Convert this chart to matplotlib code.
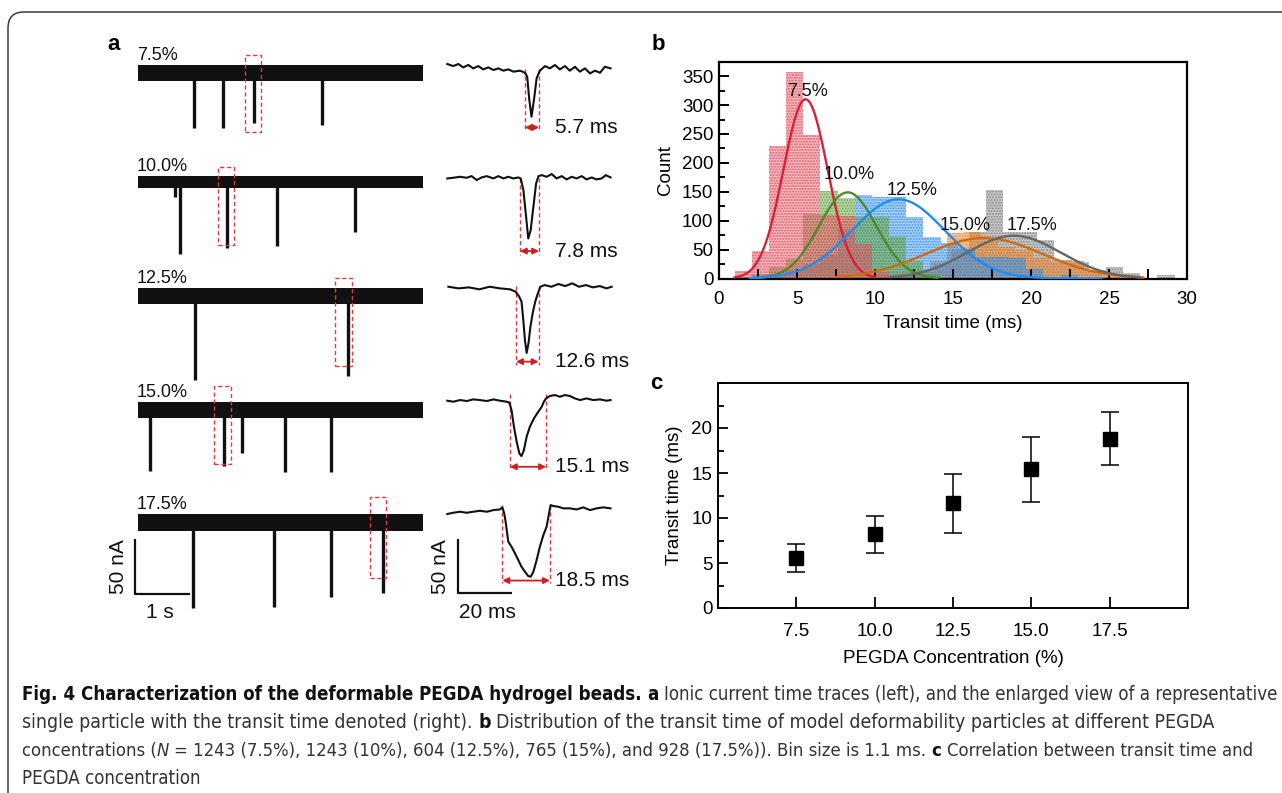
import numpy as np
import matplotlib
matplotlib.use('Agg')
import matplotlib.pyplot as plt
from matplotlib import font_manager
from matplotlib.font_manager import FontProperties
from matplotlib.patches import Rectangle, FancyBboxPatch
from matplotlib.transforms import IdentityTransform
from matplotlib.ticker import MultipleLocator
from matplotlib.colors import to_rgba

W, H, DPI = 1282, 793, 100
names = {f.name for f in font_manager.fontManager.ttflist}
SANS = 'Liberation Sans' if 'Liberation Sans' in names else 'DejaVu Sans'
plt.rcParams['font.family'] = [SANS, 'DejaVu Sans']
plt.rcParams['hatch.linewidth'] = 0.9

_WMAP = {'ultralight': 200, 'light': 300, 'normal': 400, 'regular': 400, 'book': 400, 'medium': 500,
         'semibold': 600, 'demibold': 600, 'bold': 700, 'heavy': 800, 'extra bold': 800, 'black': 900}


def _weight(f):
    if isinstance(f.weight, (int, float)):
        return int(f.weight)
    return _WMAP.get(str(f.weight).lower(), 400)


def find_condensed(target_w, italic=False):
    cands = []
    for f in font_manager.fontManager.ttflist:
        nm = f.name
        st = str(f.stretch)
        low = (nm + ' ' + f.fname).lower()
        cond = ('condensed' in low or 'narrow' in low or st in ('condensed', 'semi-condensed'))
        if not cond or 'mono' in low or 'serif' in low.replace('sans-serif', '') or 'cjk' in low:
            continue
        flat = low.replace(' ', '').replace('-', '')
        if 'extracondensed' in flat or 'ultracondensed' in flat:
            continue
        isi = f.style in ('italic', 'oblique')
        if isi != italic:
            continue
        fw = _weight(f)
        semi = ('semicondensed' in flat) or st == 'semi-condensed'
        score = abs(fw - target_w) + (150 if semi else 0) + (0 if 'sans' in low else 50)
        cands.append((score, f.fname))
    if not cands:
        return None
    cands.sort()
    return cands[0][1]


COND_REG = find_condensed(400)
COND_BOLD = find_condensed(700)
COND_IT = find_condensed(400, True)
HAVE_COND = COND_REG is not None and COND_BOLD is not None

# ---------------- data: panel b (histograms, bin = 1.1 ms) ----------------
bin_width = 1.1
hist_labels = ['7.5%', '10.0%', '12.5%', '15.0%', '17.5%']
hist_start = [1.0, 1.0, 1.0, 8.0, 9.4]
counts_75 = [13, 48, 230, 357, 249, 110, 108, 60, 12, 3]
counts_100 = [3, 8, 20, 33, 112, 152, 140, 107, 107, 72, 30, 8, 2]
counts_125 = [2, 5, 8, 15, 25, 40, 85, 144, 141, 141, 107, 72, 62, 52, 38, 38, 35, 17, 3, 6]
counts_150 = [2, 4, 6, 10, 15, 30, 78, 81, 70, 55, 49, 35, 28, 31, 14, 5]
counts_175 = [2, 4, 8, 12, 25, 50, 80, 153, 81, 81, 66, 32, 28, 14, 20, 10, 0, 6]
hist_counts = [counts_75, counts_100, counts_125, counts_150, counts_175]
# Gaussian fit parameters
fit_center = [5.55, 8.25, 11.5, 17.0, 18.9]
fit_peak = [310, 149, 137, 70, 74]
fit_sigma = [1.42, 1.85, 2.98, 3.75, 3.0]
fit_range = [(1.0, 10.0), (2.5, 14.0), (2.0, 24.5), (7.5, 27.2), (11.0, 27.0)]
label_xy = [(5.65, 324), (8.35, 180), (12.35, 153), (15.75, 92), (20.05, 92)]

# ---------------- data: panel c ----------------
conc = [7.5, 10.0, 12.5, 15.0, 17.5]
conc_labels = ['7.5', '10.0', '12.5', '15.0', '17.5']
transit_mean = [5.55, 8.23, 11.62, 15.39, 18.82]
transit_low = [3.95, 6.16, 8.34, 11.8, 15.87]
transit_high = [7.12, 10.26, 14.87, 19.0, 21.77]
transit_ticks = [0, 5, 10, 15, 20]

# ---------------- data: panel a, left (long traces, s / nA) ----------------
trace_labels = ['7.5%', '10.0%', '12.5%', '15.0%', '17.5%']
trace_len_s = 5.18
band_half_nA = [7.5, 5.5, 7.5, 7.0, 8.0]
spike_t = [[1.02, 1.55, 2.11, 3.35],
           [0.68, 0.755, 1.62, 2.53, 3.95],
           [1.04, 3.82],
           [0.22, 1.56, 1.885, 2.67, 3.50],
           [1.006, 2.47, 3.50, 4.46]]
spike_depth = [[-50.5, -50.5, -46, -48],
               [-13, -65, -60, -58, -45],
               [-77, -73],
               [-55.5, -51, -39, -57, -57],
               [-78, -77, -68, -64]]
box_t0 = [1.945, 1.46, 3.59, 1.39, 4.22]
box_t1 = [2.23, 1.745, 3.885, 1.685, 4.50]
box_top = [16.5, 13.7, 17.0, 22.0, 23.5]
box_bot = [-54, -57, -64, -49, -51]

# ---------------- data: panel a, right (single events, ms / nA) ----------------
ev1_t = [0.0, 2.2, 4.1, 5.9, 7.8, 9.6, 11.5, 13.3, 15.2, 17.1, 18.9, 20.8, 22.6, 24.5, 27.0, 28.8, 29.6,
         30.4, 31.2, 32.1, 33.1, 34.3, 36.2, 38.0, 39.9, 41.7, 43.6, 45.4, 47.3, 49.1, 51.0, 52.9, 54.7,
         56.6, 58.4, 60.5]
ev1_i = [4.6, 2.7, 4.6, 1.5, 3.7, 0.6, 2.7, -0.3, 1.5, -0.9, 0.6, -1.5, -0.3, -2.4, -1.5, -3.4, -7.0,
         -28.4, -43.6, -28.4, -8.5, -1.5, 2.7, 0.6, 3.7, -0.3, 2.7, -1.5, 2.1, -2.4, 0.6, -4.0, -1.5,
         -3.4, 2.1, 0.6]
ev2_t = [0.0, 2.2, 4.7, 7.2, 9.0, 10.9, 12.7, 14.6, 17.1, 18.9, 20.8, 22.6, 24.5, 26.3, 27.2, 28.2, 29.2,
         30.0, 30.9, 31.9, 32.9, 33.8, 35.0, 36.8, 38.7, 40.5, 42.4, 44.2, 46.1, 47.9, 49.8, 51.6, 53.5,
         55.3, 57.2, 58.7, 60.5]
ev2_i = [-0.6, 0.0, 0.9, 0.0, 1.5, -2.1, 0.3, 1.5, -0.6, 1.5, -0.6, 0.9, -0.6, 0.3, -0.6, -11.3, -35.7,
         -55.5, -47.9, -26.5, -5.2, 1.5, 2.4, 0.9, 3.4, -0.6, 1.5, -1.5, 0.9, -0.6, 1.5, -1.5, 0.3,
         -1.5, -0.6, 2.4, 0.3]
ev3_t = [0.4, 4.2, 8.0, 11.9, 15.7, 19.5, 23.3, 25.3, 26.5, 27.5, 28.2, 28.8, 29.4, 30.1, 30.8, 31.7,
         32.6, 33.5, 34.5, 36.1, 38.6, 41.2, 43.7, 46.3, 48.8, 51.4, 53.9, 56.5, 59.0, 60.9]
ev3_i = [1.5, 0.0, 0.9, -0.9, 1.5, 0.0, -0.9, -3.0, -7.0, -12, -30, -48, -59, -50, -35, -22, -12, -5,
         1.5, 3.0, 1.5, 4.0, 2.1, 4.6, 1.5, 3.0, 0.9, 2.1, 0.0, 1.5]
ev4_t = [0.0, 2.2, 4.7, 7.2, 9.6, 12.1, 14.6, 17.1, 19.5, 22.0, 23.0, 23.8, 24.7, 25.7, 26.7, 27.5, 28.4,
         29.4, 30.6, 32.1, 33.7, 35.0, 35.8, 36.6, 38.0, 39.9, 41.7, 43.6, 45.4, 47.3, 49.2, 51.6, 54.1,
         56.6, 59.0, 60.5]
ev4_i = [-0.6, -1.5, 0.0, -0.9, 0.6, 0.0, -0.9, 0.6, -0.6, -1.5, -2.4, -9.1, -24.4, -38.1, -48.8, -51.2,
         -45.7, -33.5, -24.4, -16.8, -10.7, -6.1, -1.5, 1.5, 3.7, 4.6, 3.0, 4.6, 3.7, 1.5, 0.0, 1.5, 0.0,
         0.6, -0.6, 0.0]
ev5_t = [0.0, 2.2, 4.7, 7.2, 9.6, 12.1, 14.6, 17.1, 19.5, 20.4, 21.1, 21.7, 22.6, 23.8, 25.1, 26.3, 27.5,
         28.8, 30.0, 30.9, 31.9, 33.1, 34.3, 35.6, 36.8, 37.7, 38.3, 39.3, 41.1, 43.0, 45.4, 47.9, 50.4,
         52.9, 55.3, 57.8, 60.5]
ev5_i = [-1.2, 0.0, 0.9, 0.0, 0.9, 1.8, 0.9, 2.4, 3.0, 4.9, -0.6, -9.8, -26.5, -31.1, -37.2, -43.3, -49.4,
         -54.0, -57.9, -58.5, -54.0, -43.3, -31.1, -20.4, -12.8, -0.6, 7.0, 6.1, 5.5, 4.0, 4.0, 3.0, 4.9,
         2.4, 4.0, 4.9, 4.0]
event_t = [ev1_t, ev2_t, ev3_t, ev4_t, ev5_t]
event_i = [ev1_i, ev2_i, ev3_i, ev4_i, ev5_i]
event_labels = ['5.7 ms', '7.8 ms', '12.6 ms', '15.1 ms', '18.5 ms']
dash_t0 = [28.8, 26.9, 25.5, 23.2, 20.4]
dash_t1 = [34.0, 34.0, 33.8, 36.6, 38.0]
dash_top = [0.0, 0.0, 2.0, 5.5, 7.0]
dash_bot = [-55.8, -70.7, -70.0, -64.0, -64.6]
arrow_y = [-53.4, -67.0, -67.0, -61.0, -62.0]

# ---------------- layout / style ----------------
def fx(px):
    return px / W

def fy(py):
    return 1 - py / H

RED = '#e0393e'
INK = '#111111'
hist_colors = ['#e2505e', '#5e9e3a', '#2f8de8', '#ea7f22', '#7d7d7d']
line_colors = ['#d5223a', '#4e8a2c', '#1e8cf2', '#d3690e', '#666666']

fig = plt.figure(figsize=(W / DPI, H / DPI), dpi=DPI)

# outer rounded frame
frame = FancyBboxPatch((8, -60), 1500, H - 12 + 60, boxstyle='round,pad=0,rounding_size=16',
                       transform=IdentityTransform(), fill=False, ec='#3a3a3a', lw=1.1)
fig.add_artist(frame)

# ---------------- panel b ----------------
axb = fig.add_axes([fx(719), fy(278.5), fx(1187) - fx(719), fy(61.7) - fy(278.5)])
order = [4, 3, 2, 1, 0]
for k in order:
    edges = hist_start[k] + bin_width * np.arange(len(hist_counts[k]))
    axb.bar(edges, hist_counts[k], width=bin_width, align='edge',
            color=to_rgba(hist_colors[k], 0.42), edgecolor=to_rgba(hist_colors[k], 0.85),
            hatch='......', linewidth=0, zorder=1)
for k in range(5):
    lo, hi = fit_range[k]
    xs = np.linspace(lo, hi, 300)
    ys = fit_peak[k] * np.exp(-(xs - fit_center[k]) ** 2 / (2 * fit_sigma[k] ** 2))
    axb.plot(xs, ys, color=line_colors[k], lw=1.7, zorder=3)
for k in range(5):
    axb.text(label_xy[k][0], label_xy[k][1], hist_labels[k], ha='center', va='center',
             fontsize=13, color='#111111', zorder=4)
axb.set_xlim(0, 30)
axb.set_ylim(0, 375)
axb.xaxis.set_major_locator(MultipleLocator(5))
axb.xaxis.set_minor_locator(MultipleLocator(2.5))
axb.yaxis.set_major_locator(MultipleLocator(50))
axb.yaxis.set_minor_locator(MultipleLocator(25))
axb.tick_params(which='both', direction='in', top=False, right=False, width=1.4, labelsize=13.5)
axb.tick_params(axis='x', which='both', length=7, pad=9)
axb.tick_params(axis='y', which='major', length=7, pad=4)
axb.tick_params(axis='y', which='minor', length=4.5)
for s in axb.spines.values():
    s.set_linewidth(1.6)
axb.set_xlabel('Transit time (ms)', fontsize=13.5, labelpad=5)
axb.set_ylabel('Count', fontsize=13.5, labelpad=6)

# ---------------- panel c ----------------
axc = fig.add_axes([fx(718), fy(608), fx(1188) - fx(718), fy(383) - fy(608)])
m = np.array(transit_mean)
yerr = [m - np.array(transit_low), np.array(transit_high) - m]
axc.errorbar(conc, transit_mean, yerr=yerr, fmt='s', color='black', ms=10.5,
             capsize=6.5, elinewidth=1.1, capthick=1.1)
axc.set_xlim(5, 20)
axc.set_ylim(0, 25)
axc.set_xticks(conc)
axc.set_xticklabels(conc_labels)
axc.set_yticks(transit_ticks)
axc.yaxis.set_minor_locator(MultipleLocator(2.5))
axc.tick_params(which='both', direction='in', top=False, right=False, width=1.3, labelsize=13.5)
axc.tick_params(axis='x', which='major', length=8, pad=11)
axc.tick_params(axis='y', which='major', length=7, pad=4)
axc.tick_params(axis='y', which='minor', length=4.5)
for s in axc.spines.values():
    s.set_linewidth(1.4)
axc.set_xlabel('PEGDA Concentration (%)', fontsize=13.5, labelpad=7)
axc.set_ylabel('Transit time (ms)', fontsize=13.5, labelpad=6)

# ---------------- panel a, left ----------------
left_offsets = [0, -100, -204, -308, -411]
axl = fig.add_axes([fx(130), fy(630), fx(430) - fx(130), fy(50) - fy(630)])
axl.set_xlim(-0.1455, 5.309)
axl.set_ylim(-509.1, 21.0)
axl.axis('off')
for i in range(5):
    off = left_offsets[i]
    axl.fill_between([0, trace_len_s], off - band_half_nA[i], off + band_half_nA[i], color=INK, lw=0)
    for t, d in zip(spike_t[i], spike_depth[i]):
        axl.plot([t, t], [off, off + d], color=INK, lw=2.4, solid_capstyle='butt')
    axl.add_patch(Rectangle((box_t0[i], off + box_bot[i]), box_t1[i] - box_t0[i], box_top[i] - box_bot[i],
                            fill=False, ec=RED, lw=1.0, ls=(0, (3, 2)), zorder=5))
    axl.text(-0.02, off + band_half_nA[i] + 1.0, trace_labels[i], ha='left', va='bottom',
             fontsize=13, color='#111111')
# scale bar 1 s / 50 nA
sb_x, sb_y = -0.055, -476.2
axl.plot([sb_x, sb_x, sb_x + 1.0], [sb_y + 50, sb_y, sb_y], color=INK, lw=1.6, solid_capstyle='butt')
fig.text(fx(160), fy(613), '1 s', ha='center', va='center', fontsize=15, color='#111111')
fig.text(fx(118), fy(567), '50 nA', ha='center', va='center', fontsize=15, rotation=90, color='#111111')

# ---------------- panel a, right ----------------
right_offsets = [0, -99.4, -200.5, -302.6, -405.6]
axr = fig.add_axes([fx(440), fy(630), fx(640) - fx(440), fy(50) - fy(630)])
axr.set_xlim(-2.7, 71.4)
axr.set_ylim(-512.8, 17.4)
axr.axis('off')
for i in range(5):
    off = right_offsets[i]
    axr.plot(event_t[i], np.array(event_i[i]) + off, color=INK, lw=1.5, zorder=3)
    for tt in (dash_t0[i], dash_t1[i]):
        axr.plot([tt, tt], [off + dash_top[i], off + dash_bot[i]], color=RED, lw=1.0,
                 ls=(0, (3, 2)), zorder=2)
    axr.annotate('', xy=(dash_t0[i], off + arrow_y[i]), xytext=(dash_t1[i], off + arrow_y[i]),
                 arrowprops=dict(arrowstyle='<|-|>', color='#cf1f1f', lw=1.3, mutation_scale=9,
                                 shrinkA=0, shrinkB=0))
    axr.text(39.9, off + arrow_y[i], event_labels[i], ha='left', va='center', fontsize=15,
             color='#111111')
rb_x, rb_y = 3.85, -479.3
axr.plot([rb_x, rb_x, rb_x + 20], [rb_y + 50, rb_y, rb_y], color=INK, lw=1.6, solid_capstyle='butt')
fig.text(fx(487), fy(613), '20 ms', ha='center', va='center', fontsize=15, color='#111111')
fig.text(fx(440), fy(567), '50 nA', ha='center', va='center', fontsize=15, rotation=90, color='#111111')

# panel letters
fig.text(fx(114), fy(45), 'a', ha='center', va='center', fontsize=16, fontweight='bold')
fig.text(fx(658), fy(45), 'b', ha='center', va='center', fontsize=16, fontweight='bold')
fig.text(fx(656), fy(383), 'c', ha='center', va='center', fontsize=16, fontweight='bold')

# ---------------- caption ----------------
cap_lines = [
    [('Fig. 4 Characterization of the deformable PEGDA hydrogel beads.', 'bold', 'normal'),
     ('a', 'bold', 'normal'),
     ('Ionic current time traces (left), and the enlarged view of a representative', 'normal', 'normal')],
    [('single particle with the transit time denoted (right).', 'normal', 'normal'),
     ('b', 'bold', 'normal'),
     ('Distribution of the transit time of model deformability particles at different PEGDA', 'normal', 'normal')],
    [('concentrations (', 'normal', 'normal'), ('N', 'normal', 'italic'),
     ('= 1243 (7.5%), 1243 (10%), 604 (12.5%), 765 (15%), and 928 (17.5%)). Bin size is 1.1 ms.',
      'normal', 'normal'),
     ('c', 'bold', 'normal'),
     ('Correlation between transit time and', 'normal', 'normal')],
    [('PEGDA concentration', 'normal', 'normal')],
]
cap_y = [695, 723, 751, 779]
cap_end = [1278, 1210, 1255, None]
cap_x0 = 22
renderer = fig.canvas.get_renderer()


def cap_props(wgt, sty, fs):
    if HAVE_COND:
        if wgt == 'bold':
            return FontProperties(fname=COND_BOLD, size=fs)
        if sty == 'italic' and COND_IT is not None:
            return FontProperties(fname=COND_IT, size=fs)
        return FontProperties(fname=COND_REG, size=fs)
    return FontProperties(family=[SANS, 'DejaVu Sans'], weight=wgt, style=sty, size=fs)


def render_line(segs, yy, fs):
    arts = []
    p1 = fig.text(0, 0, 'x x', fontproperties=cap_props('normal', 'normal', fs))
    p2 = fig.text(0, 0, 'xx', fontproperties=cap_props('normal', 'normal', fs))
    space = p1.get_window_extent(renderer).width - p2.get_window_extent(renderer).width
    p1.remove()
    p2.remove()
    x = cap_x0
    for j, (s, wgt, sty) in enumerate(segs):
        if j > 0 and not segs[j - 1][0].endswith('('):
            x += space
        t = fig.text(fx(x), fy(yy), s, ha='left', va='center', fontproperties=cap_props(wgt, sty, fs),
                     color='#111111' if wgt == 'bold' else '#333333')
        x += t.get_window_extent(renderer).width
        arts.append(t)
    return arts, x - cap_x0


base_fs = 12.0
line_fs = []
for segs, yy, end in zip(cap_lines, cap_y, cap_end):
    arts, wdt = render_line(segs, yy, base_fs)
    for a in arts:
        a.remove()
    if end is None:
        line_fs.append(line_fs[0])
    else:
        line_fs.append(base_fs * (end - cap_x0) / wdt)
for segs, yy, fs in zip(cap_lines, cap_y, line_fs):
    render_line(segs, yy, fs)

fig.savefig('out.png', dpi=DPI)
